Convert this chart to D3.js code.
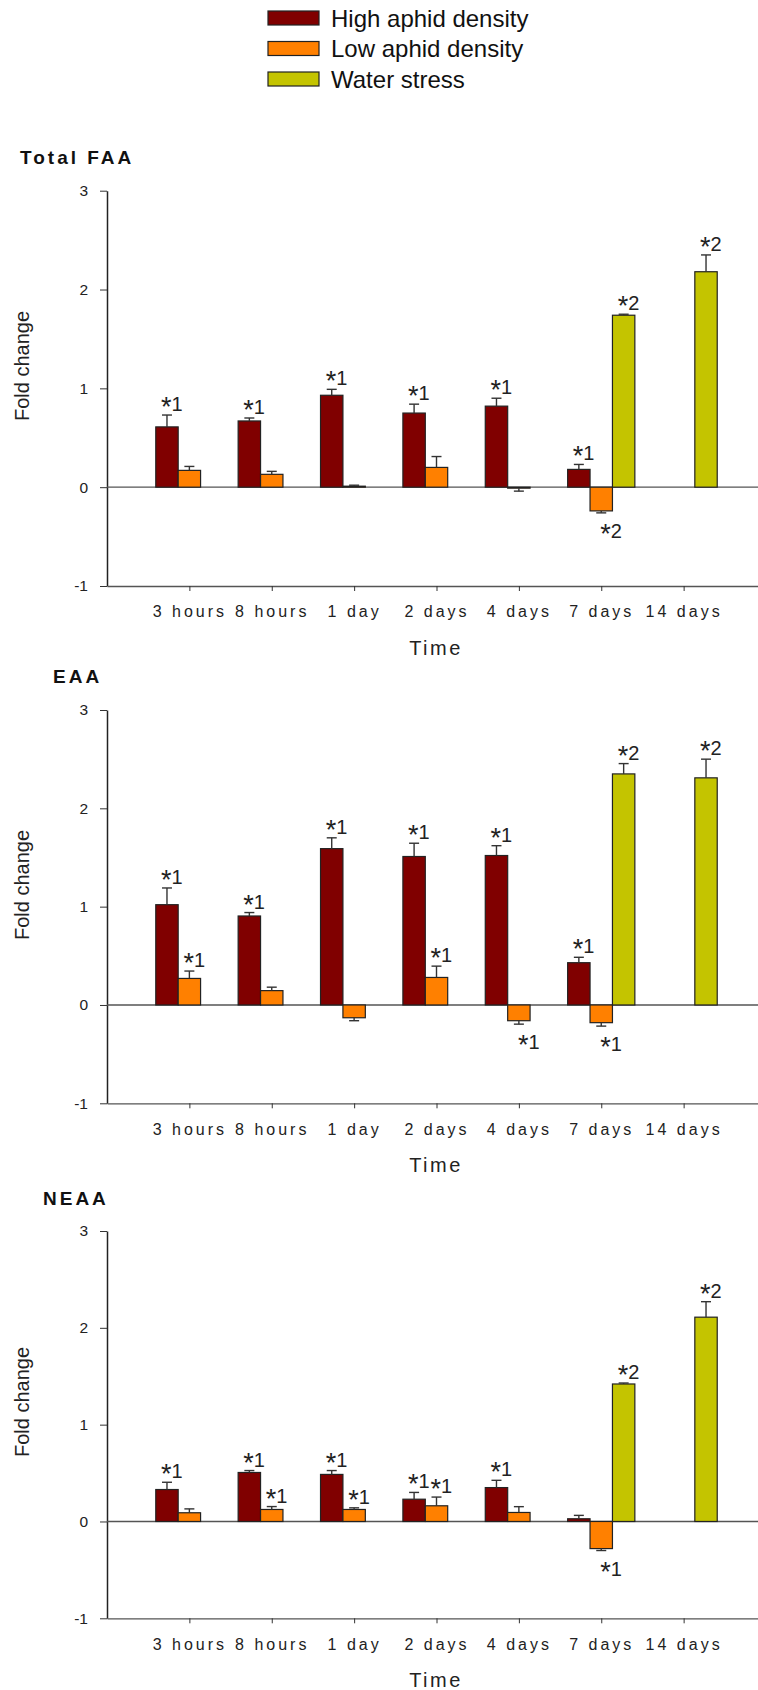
<!DOCTYPE html>
<html>
<head>
<meta charset="utf-8">
<script src="https://cdn.jsdelivr.net/npm/d3@7"></script>
<style>
  body { margin: 0; background: #fff; }
  svg { display: block; font-family: Arial, "Liberation Sans", sans-serif; }
</style>
</head>
<body>
<svg id="chart" width="758" height="1690"></svg>
<script>
// data ////////////////////////////////////////////////////////////
const categories = ["3 hours", "8 hours", "1 day", "2 days", "4 days", "7 days", "14 days"];
const seriesNames = ["High aphid density", "Low aphid density", "Water stress"];
const seriesColors = ["#800000", "#ff8000", "#c4c400"];
const yTicks = [-1, 0, 1, 2, 3];

// Total FAA
const faaHigh = [0.61, 0.67, 0.93, 0.75, 0.82, 0.18, null];
const faaHighErr = [0.12, 0.03, 0.06, 0.09, 0.08, 0.05, null];
const faaLow = [0.17, 0.13, 0.01, 0.20, -0.01, -0.24, null];
const faaLowErr = [0.04, 0.03, 0.01, 0.11, 0.03, 0.02, null];
const faaWater = [null, null, null, null, null, 1.74, 2.18];
const faaWaterErr = [null, null, null, null, null, 0.01, 0.17];
const faaHighLab = ["*1", "*1", "*1", "*1", "*1", "*1", null];
const faaLowLab = [null, null, null, null, null, "*2", null];
const faaWaterLab = [null, null, null, null, null, "*2", "*2"];

// EAA
const eaaHigh = [1.02, 0.905, 1.59, 1.51, 1.52, 0.43, null];
const eaaHighErr = [0.17, 0.035, 0.11, 0.135, 0.10, 0.055, null];
const eaaLow = [0.27, 0.146, -0.13, 0.28, -0.16, -0.18, null];
const eaaLowErr = [0.075, 0.035, 0.03, 0.115, 0.035, 0.035, null];
const eaaWater = [null, null, null, null, null, 2.35, 2.31];
const eaaWaterErr = [null, null, null, null, null, 0.105, 0.19];
const eaaHighLab = ["*1", "*1", "*1", "*1", "*1", "*1", null];
const eaaLowLab = ["*1", null, null, "*1", "*1", "*1", null];
const eaaWaterLab = [null, null, null, null, null, "*2", "*2"];

// NEAA
const neaaHigh = [0.33, 0.506, 0.486, 0.23, 0.35, 0.028, null];
const neaaHighErr = [0.075, 0.02, 0.04, 0.07, 0.075, 0.035, null];
const neaaLow = [0.09, 0.124, 0.124, 0.162, 0.093, -0.28, null];
const neaaLowErr = [0.04, 0.03, 0.017, 0.09, 0.06, 0.02, null];
const neaaWater = [null, null, null, null, null, 1.42, 2.11];
const neaaWaterErr = [null, null, null, null, null, 0.01, 0.16];
const neaaHighLab = ["*1", "*1", "*1", "*1", "*1", null, null];
const neaaLowLab = [null, "*1", "*1", "*1", null, "*1", null];
const neaaWaterLab = [null, null, null, null, null, "*2", "*2"];

const panels = [
  { title: "Total FAA", values: [faaHigh, faaLow, faaWater], errors: [faaHighErr, faaLowErr, faaWaterErr], labels: [faaHighLab, faaLowLab, faaWaterLab] },
  { title: "EAA", values: [eaaHigh, eaaLow, eaaWater], errors: [eaaHighErr, eaaLowErr, eaaWaterErr], labels: [eaaHighLab, eaaLowLab, eaaWaterLab] },
  { title: "NEAA", values: [neaaHigh, neaaLow, neaaWater], errors: [neaaHighErr, neaaLowErr, neaaWaterErr], labels: [neaaHighLab, neaaLowLab, neaaWaterLab] }
];

// layout //////////////////////////////////////////////////////////
const layout = [
  { top: 190.7, bottom: 586, titleX: 20, titleY: 164, yLabelY: 366 },
  { top: 710, bottom: 1103.3, titleX: 53, titleY: 683, yLabelY: 885 },
  { top: 1231, bottom: 1618.3, titleX: 43, titleY: 1205, yLabelY: 1402 }
];

const svg = d3.select("#chart");
const W = 758;

// x positions 1..7 on a 0..8 axis, bars grouped around each tick
const x = d3.scaleLinear().domain([0, 8]).range([107, 766]);
const band = d3.scaleBand().domain(seriesNames).range([-33.6, 33.6]);

// legend
const legend = svg.append("g").attr("class", "legend");
seriesNames.forEach((name, i) => {
  const cy = 18 + i * 30.5;
  legend.append("rect")
    .attr("x", 268).attr("y", cy - 7)
    .attr("width", 51).attr("height", 14)
    .attr("fill", seriesColors[i])
    .attr("stroke", "#222").attr("stroke-width", 1.2);
  legend.append("text")
    .attr("x", 331).attr("y", cy + 8.5)
    .attr("font-size", 24)
    .attr("fill", "#111")
    .text(name);
});

// panels
panels.forEach((p, k) => {
  const L = layout[k];
  const y = d3.scaleLinear().domain([-1, 3]).range([L.bottom, L.top]);
  const g = svg.append("g").attr("class", "panel");

  // title
  g.append("text")
    .attr("x", L.titleX).attr("y", L.titleY)
    .attr("font-size", 19).attr("font-weight", "bold")
    .attr("letter-spacing", 3)
    .attr("fill", "#111")
    .text(p.title);

  // y axis
  const yAxis = g.append("g")
    .attr("transform", `translate(${x(0)},0)`)
    .call(d3.axisLeft(y).tickValues(yTicks).tickFormat(d => String(d))
      .tickSize(7).tickSizeOuter(0).tickPadding(12));
  yAxis.select(".domain").attr("stroke", "#222").attr("stroke-width", 1.5);
  yAxis.selectAll(".tick line").attr("stroke", "#333");
  yAxis.selectAll(".tick text")
    .attr("font-size", 15.5).attr("font-family", "Arial, 'Liberation Sans', sans-serif")
    .attr("fill", "#222");

  // x axis at the bottom
  const xAxis = g.append("g")
    .attr("transform", `translate(0,${y(-1)})`)
    .call(d3.axisBottom(x).tickValues(d3.range(1, categories.length + 1))
      .tickFormat(i => categories[i - 1])
      .tickSize(5).tickSizeOuter(0).tickPadding(15));
  xAxis.select(".domain").attr("stroke", "#555").attr("stroke-width", 1.3);
  xAxis.selectAll(".tick line").attr("stroke", "#333");
  xAxis.selectAll(".tick text")
    .attr("font-size", 16).attr("letter-spacing", 3)
    .attr("font-family", "Arial, 'Liberation Sans', sans-serif")
    .attr("fill", "#222");

  // zero line
  g.append("line")
    .attr("x1", x(0)).attr("x2", W)
    .attr("y1", y(0)).attr("y2", y(0))
    .attr("stroke", "#555").attr("stroke-width", 1.3);

  // axis titles
  g.append("text")
    .attr("transform", `translate(29,${L.yLabelY}) rotate(-90)`)
    .attr("text-anchor", "middle")
    .attr("font-size", 20).attr("fill", "#222")
    .text("Fold change");

  g.append("text")
    .attr("x", 436).attr("y", y(-1) + 69)
    .attr("text-anchor", "middle")
    .attr("font-size", 20).attr("letter-spacing", 2.5)
    .attr("fill", "#222")
    .text("Time");

  // bars, error bars, labels
  seriesNames.forEach((s, si) => {
    const rows = categories.map((c, i) => ({
      i, v: p.values[si][i], e: p.errors[si][i], lab: p.labels[si][i]
    })).filter(d => d.v !== null);

    const bx = d => x(d.i + 1) + band(s);
    const cx = d => bx(d) + band.bandwidth() / 2;
    const tip = d => d.v >= 0 ? d.v + d.e : d.v - d.e;

    g.selectAll(null).data(rows).join("rect")
      .attr("x", bx)
      .attr("y", d => Math.min(y(d.v), y(0)))
      .attr("width", band.bandwidth())
      .attr("height", d => Math.abs(y(d.v) - y(0)))
      .attr("fill", seriesColors[si])
      .attr("stroke", "#222").attr("stroke-width", 1.2);

    g.selectAll(null).data(rows).join("line")
      .attr("x1", cx).attr("x2", cx)
      .attr("y1", d => y(d.v)).attr("y2", d => y(tip(d)))
      .attr("stroke", "#333").attr("stroke-width", 1.4);

    g.selectAll(null).data(rows).join("line")
      .attr("x1", d => cx(d) - 5).attr("x2", d => cx(d) + 5)
      .attr("y1", d => y(tip(d))).attr("y2", d => y(tip(d)))
      .attr("stroke", "#333").attr("stroke-width", 1.4);

    const lab = g.selectAll(null).data(rows.filter(d => d.lab)).join("text")
      .attr("x", d => d.v >= 0 ? cx(d) - 6 : cx(d) - 1)
      .attr("y", d => d.v >= 0 ? y(tip(d)) - 4 : y(tip(d)) + 25)
      .attr("font-size", 20)
      .attr("fill", "#222");
    lab.append("tspan").attr("font-size", 27).attr("dy", 5).text(d => d.lab.charAt(0));
    lab.append("tspan").attr("dy", -5).text(d => d.lab.slice(1));
  });
});
</script>
</body>
</html>
